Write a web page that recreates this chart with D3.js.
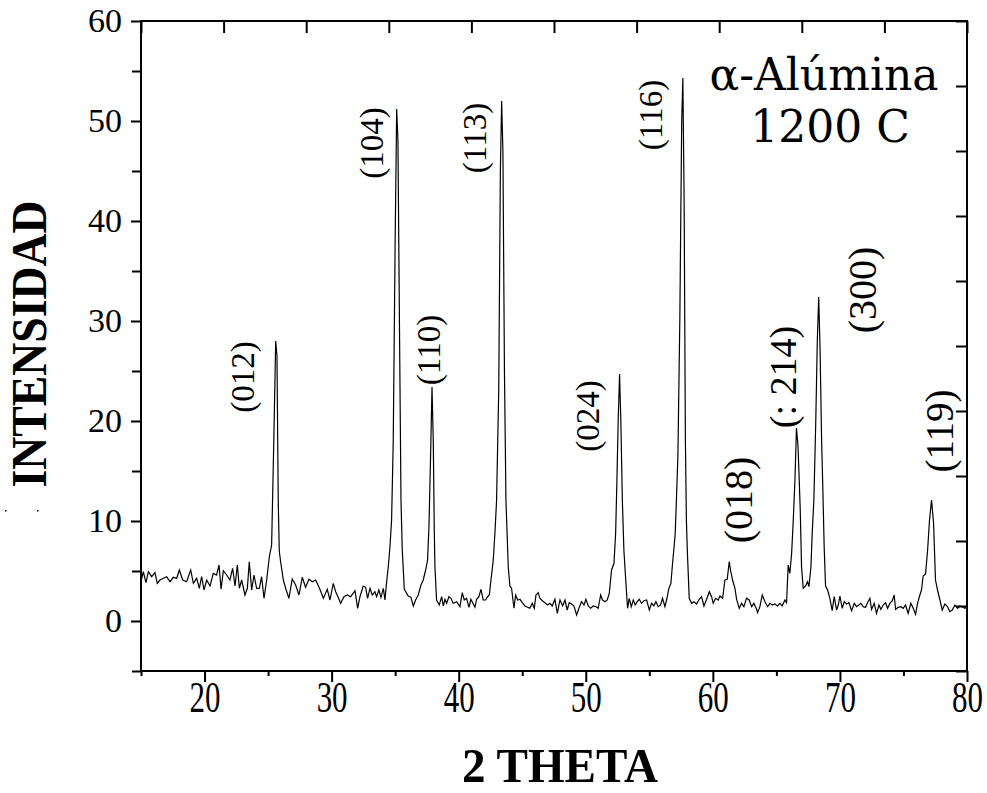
<!DOCTYPE html>
<html>
<head>
<meta charset="utf-8">
<script src="https://cdn.jsdelivr.net/npm/d3@7"></script>
<style>
  body { margin: 0; background: #fff; }
  svg { display: block; }
</style>
</head>
<body>
<script>
// XRD pattern, alpha alumina fired at 1200 C
var twoTheta = [15.0,15.18,15.39,15.58,15.84,16.1,16.28,16.49,16.76,17.02,17.28,17.54,17.81,18.02,18.28,18.59,18.91,19.12,19.38,19.59,19.77,19.96,
  20.17,20.43,20.69,20.95,21.14,21.3,21.48,21.74,22.0,22.21,22.4,22.58,22.74,22.92,23.18,23.37,23.52,23.71,23.89,24.1,24.31,24.49,24.68,24.89,
  25.1,25.28,25.45,25.6,25.7,25.8,25.88,25.98,26.2,26.4,26.64,26.9,27.17,27.43,27.69,27.95,28.22,28.48,28.74,29.01,29.35,29.66,29.87,
  30.13,30.32,30.5,30.71,30.97,31.23,31.5,31.84,32.05,32.23,32.49,32.68,32.83,33.02,33.2,33.41,33.54,33.72,33.88,34.07,34.2,34.33,34.46,34.59,34.72,
  34.85,35.0,35.12,35.22,35.35,35.46,35.56,35.72,36.03,36.24,36.43,36.61,36.82,37.03,37.21,37.4,37.55,37.66,37.78,37.9,38.0,38.08,38.13,38.26,
  38.47,38.66,38.79,38.92,39.05,39.23,39.39,39.57,39.84,40.1,40.28,40.44,40.62,40.81,40.96,41.12,41.28,41.41,41.59,41.75,41.93,42.12,42.27,42.41,
  42.54,42.72,42.85,42.98,43.15,43.28,43.38,43.48,43.6,43.72,43.9,44.03,44.16,44.35,44.48,44.64,44.82,45.0,45.21,45.42,45.6,45.79,45.95,
  46.08,46.26,46.39,46.58,46.79,47.0,47.18,47.36,47.57,47.76,47.97,48.18,48.36,48.54,48.7,48.88,49.07,49.28,49.49,49.67,49.86,50.01,50.2,50.38,
  50.59,50.8,50.98,51.17,51.32,51.51,51.69,51.85,52.03,52.22,52.35,52.45,52.55,52.66,52.76,52.88,53.0,53.16,53.29,53.42,53.58,53.74,53.89,54.05,
  54.21,54.39,54.58,54.79,55.0,55.18,55.36,55.52,55.7,55.89,56.04,56.23,56.36,56.54,56.7,56.83,56.94,57.04,57.13,57.25,57.4,57.55,57.64,57.74,
  57.84,57.92,57.99,58.14,58.33,58.51,58.72,58.93,59.11,59.3,59.51,59.72,59.9,60.03,60.21,60.42,60.56,60.77,60.95,61.13,61.29,61.39,61.55,61.74,
  61.87,62.08,62.26,62.44,62.65,62.86,63.05,63.23,63.44,63.52,63.7,63.89,64.1,64.31,64.49,64.67,64.88,65.09,65.28,65.46,65.67,65.8,65.93,66.06,
  66.2,66.33,66.46,66.58,66.7,66.8,66.88,66.98,67.11,67.3,67.45,67.56,67.72,67.82,67.95,68.1,68.22,68.33,68.44,68.56,68.66,68.76,68.87,69.03,
  69.21,69.39,69.55,69.74,69.87,70.0,70.18,70.34,70.52,70.71,70.92,71.13,71.31,71.49,71.65,71.83,72.02,72.17,72.36,72.49,72.7,72.88,73.07,73.22,
  73.41,73.59,73.75,73.93,74.12,74.27,74.38,74.59,74.8,74.98,75.16,75.37,75.58,75.77,75.95,76.11,76.29,76.42,76.55,76.74,76.9,77.05,77.21,77.37,
  77.52,77.68,77.87,78.05,78.26,78.47,78.65,78.84,79.05,79.26,79.44,79.62,79.83,80.0];
var intensity = [3.93,4.93,3.83,4.93,4.43,4.83,3.77,4.1,4.27,4.43,3.93,4.37,4.27,5.1,4.1,3.93,5.1,3.77,4.27,3.27,4.43,3.1,
  4.1,3.5,4.77,4.6,5.6,3.17,5.03,4.6,4.1,5.27,3.5,5.6,3.27,4.1,2.6,3.27,5.93,3.1,4.6,3.27,3.27,4.43,2.27,4.1,
  6.43,7.6,18,28.0,26.5,12,7,6.0,4.1,3.2,2.27,4.2,3.6,2.6,4.37,3.37,4.17,3.93,4.1,3.37,2.27,3.17,2.1,
  3.77,2.93,2.43,1.77,2.43,2.6,2.43,3.03,1.27,2.43,3.5,3.37,2.27,3.27,2.6,2.93,2.43,3.1,2.37,3.27,2.1,3.93,5.43,7.43,10.1,
  18,38,51.2,48,28,12,7.1,3.17,2.5,2.37,1.5,2.1,2.6,3.6,4.1,5.1,6.1,9.43,16,23.4,18,9,5.43,2.1,
  1.6,2.43,1.5,2.17,1.77,2.43,2.27,1.77,1.93,1.43,2.83,2.1,2.27,1.37,2.17,1.77,1.37,2.17,2.43,3.17,2.1,2.1,2.43,2.6,
  4.1,6.1,8.77,12,23,45,52,47,25,12,5.43,3.5,3.27,1.27,2.6,2.1,2.17,1.83,1.5,1.37,1.27,1.77,1.27,
  2.6,2.83,2.27,2.03,1.83,1.6,1.77,1.5,2.17,0.77,2.1,1.5,2.1,1.1,1.83,1.7,1.5,0.6,1.37,1.93,1.6,2.17,1.5,1.27,
  1.5,1.43,1.27,2.6,2.1,1.93,2.1,2.77,5.1,5.77,8.77,14,20,24.7,20,12,7.1,3.77,1.27,2.27,1.43,2.1,1.6,1.93,
  2.17,1.77,2.03,2.1,1.1,1.77,1.5,1.93,1.43,1.6,2.27,1.43,2.1,3.27,3.77,5.77,7.27,8.77,12,16.5,30,50,54.3,42,
  18,10,7.1,2.27,1.77,1.93,1.7,2.17,2.43,1.5,2.17,2.93,2.43,1.77,2.27,2.1,2.5,2.27,4.1,4.17,5.93,5.1,4.1,3.27,
  2.17,1.27,1.77,1.43,2.27,2.1,1.43,1.77,1.17,0.83,1.43,2.6,1.93,1.43,1.77,1.6,1.7,1.5,1.77,1.5,2.1,1.83,5.6,4.77,
  6.77,10.1,14.1,19.3,17.5,14,11,5.43,3.27,3.5,3.93,3.43,5.43,8.77,12.1,20,28,32.4,27,18,13,7.43,3.5,3.1,
  2.27,1.03,2.43,1.1,1.6,2.5,1.27,1.93,1.7,1.83,1.03,1.77,1.43,1.6,1.77,1.43,1.37,1.83,2.27,1.17,1.77,0.77,1.6,1.17,
  1.6,1.83,1.27,1.77,2.03,2.6,1.17,1.37,1.43,1.27,1.6,0.77,1.77,1.27,0.67,1.77,2.6,3.1,4.5,4.7,7.1,10.1,12.1,9.77,
  4.1,3.1,2.1,1.1,1.7,1.43,0.93,1.1,1.6,1.27,1.5,1.43,1.27,1.4];

// reflection labels
var peakNames = ["(012)","(104)","(110)","(113)","(024)","(116)","(018)","(: 214)","(300)","(119)"];
// label layout (2theta / intensity of the text centre, font px)
var labelX = [22.95, 33.1, 37.58, 41.2, 50.17, 55.05, 61.97, 65.51, 71.73, 77.79];
var labelY = [24.4, 47.8, 27.1, 48.3, 20.5, 50.6, 12.1, 24.4, 33.1, 19.0];
var labelSize = [33, 33, 33, 33, 33, 33, 40, 38, 40, 39];

var xTicks = [20, 30, 40, 50, 60, 70, 80];
var xMinor = [15, 25, 35, 45, 55, 65, 75];
var yTicks = [0, 10, 20, 30, 40, 50, 60];
var yMinor = [-5, 5, 15, 25, 35, 45, 55];

var W = 987, H = 793;
var padL = 141, padR = 967, padT = 21, padB = 671;

var svg = d3.select("body").append("svg")
  .attr("width", W).attr("height", H);

var x = d3.scaleLinear().domain([15, 80]).range([padL, padR]);
var y = d3.scaleLinear().domain([-5, 60]).range([padB, padT]);
// unlabeled opposite axes carry their own 10 divisions
var xTop = d3.scaleLinear().domain([0, 10]).range([padL, padR]);
var yRight = d3.scaleLinear().domain([0, 10]).range([padB, padT]);

var serif = "'Liberation Serif', 'Times New Roman', serif";

// bottom axis
svg.append("g").attr("transform", "translate(0," + padB + ")")
  .call(d3.axisBottom(x).tickValues(xMinor).tickSize(5).tickFormat(""));
var gx = svg.append("g").attr("transform", "translate(0," + padB + ")")
  .call(d3.axisBottom(x).tickValues(xTicks).tickSize(11).tickFormat(d3.format("d")));

// left axis, ticks outward
svg.append("g").attr("transform", "translate(" + padL + ",0)")
  .call(d3.axisLeft(y).tickValues(yMinor).tickSize(9).tickFormat(""));
var gy = svg.append("g").attr("transform", "translate(" + padL + ",0)")
  .call(d3.axisLeft(y).tickValues(yTicks).tickSize(10).tickPadding(9).tickFormat(d3.format("d")));

svg.append("g").attr("transform", "translate(0," + padT + ")")
  .call(d3.axisTop(xTop).ticks(10).tickSize(-12).tickFormat(""));
svg.append("g").attr("transform", "translate(" + padR + ",0)")
  .call(d3.axisRight(yRight).ticks(10).tickSize(-11).tickFormat(""));

svg.selectAll(".domain").remove();
svg.selectAll(".tick line").attr("stroke", "#000").attr("stroke-width", 2);

gy.selectAll(".tick text").attr("fill", "#000")
  .style("font-family", serif).style("font-size", "34px");
// x tick labels are drawn tall and narrow in the original
gx.selectAll(".tick text").attr("fill", "#000")
  .attr("y", null).attr("dy", null)
  .attr("transform", "translate(0,41) scale(1,1.4)")
  .style("font-family", serif).style("font-size", "31px");

svg.append("rect")
  .attr("x", padL).attr("y", padT)
  .attr("width", padR - padL).attr("height", padB - padT)
  .attr("fill", "none").attr("stroke", "#000").attr("stroke-width", 2);

// pattern
var pts = twoTheta.map(function (t, i) { return [t, intensity[i]]; });
svg.append("path")
  .datum(pts)
  .attr("fill", "none")
  .attr("stroke", "#000")
  .attr("stroke-width", 1.2)
  .attr("d", d3.line().x(function (d) { return x(d[0]); }).y(function (d) { return y(d[1]); }));

// hkl labels, rotated
svg.selectAll(".hkl")
  .data(peakNames)
  .enter().append("text")
  .attr("class", "hkl")
  .attr("transform", function (d, i) {
    return "translate(" + x(labelX[i]) + "," + y(labelY[i]) + ") rotate(-90)";
  })
  .attr("text-anchor", "middle")
  .attr("dy", "0.35em")
  .style("font-family", serif)
  .style("font-size", function (d, i) { return labelSize[i] + "px"; })
  .text(function (d) { return d; });

// sample annotation
var note = svg.append("text")
  .attr("text-anchor", "middle")
  .style("font-family", "'DejaVu Serif', serif")
  .style("font-size", "44px");
note.append("tspan").attr("x", 824).attr("y", 90).text("\u03b1-Al\u00famina");
note.append("tspan").attr("x", 830).attr("y", 142).text("1200 C");

// axis titles
svg.append("text")
  .attr("x", 560).attr("y", 782)
  .attr("text-anchor", "middle")
  .attr("textLength", 196).attr("lengthAdjust", "spacingAndGlyphs")
  .style("font-family", serif).style("font-weight", "bold").style("font-size", "49px")
  .text("2 THETA");

svg.append("text")
  .attr("transform", "translate(46,344) rotate(-90)")
  .attr("text-anchor", "middle")
  .attr("textLength", 287).attr("lengthAdjust", "spacingAndGlyphs")
  .style("font-family", serif).style("font-weight", "bold").style("font-size", "50px")
  .text("INTENSIDAD");

// two stray specks left of the axis in the original
svg.append("rect").attr("x", 5).attr("y", 510).attr("width", 1.5).attr("height", 1.5).attr("fill", "#000");
svg.append("rect").attr("x", 37).attr("y", 510).attr("width", 1.5).attr("height", 1.5).attr("fill", "#000");
</script>
</body>
</html>
